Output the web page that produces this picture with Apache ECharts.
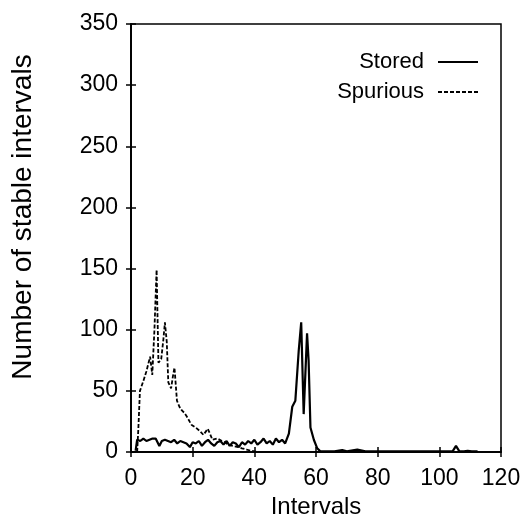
<!DOCTYPE html>
<html>
<head>
<meta charset="utf-8">
<script src="https://cdn.jsdelivr.net/npm/echarts@6/dist/echarts.min.js"></script>
<style>
html,body{margin:0;padding:0;background:#fff;}
#chart{width:530px;height:529px;}
</style>
</head>
<body>
<div id="chart"></div>
<script>
// ---- data ----
const seriesNames = ['Stored', 'Spurious'];
const xTicks = [0, 20, 40, 60, 80, 100, 120];
const yTicks = [0, 50, 100, 150, 200, 250, 300, 350];

const storedX = [1.5, 2, 3, 4, 5, 6, 7, 8, 9.2, 10, 11, 12, 13, 14, 15, 16, 17, 18, 19.1, 20, 21, 22, 23, 24, 25, 26, 27, 28, 29, 30, 31, 32, 33, 34, 35, 36, 37, 38, 39, 40, 41, 42, 43, 44, 45, 46, 47, 48, 49, 50, 51.2, 52.3, 53.3, 54.4, 55.2, 56, 57.1, 57.6, 58.2, 59.3, 60.4, 61.4, 64, 66, 68.5, 70, 73.4, 76, 80, 90, 100, 104.3, 105.4, 106.5, 108, 109.2, 110.5, 112.4];
const storedY = [1, 10, 9, 11, 9, 10, 11, 11, 5, 9, 10, 9, 8, 10, 7, 9, 8, 7, 4, 8, 7, 9, 5, 8, 10, 7, 5, 8, 9, 6, 9, 5, 8, 7, 4, 8, 6, 9, 7, 10, 6, 8, 11, 7, 9, 6, 11, 8, 10, 7, 15, 37, 42, 83, 106, 31, 97, 75, 20, 10, 3, 0.5, 0.5, 0.5, 1.6, 0.5, 2, 0.5, 0.5, 0.5, 0.5, 0.5, 5, 0.5, 0.5, 1, 0.5, 0.5];

const spuriousX = [2, 2.4, 2.9, 4, 5, 6.2, 6.9, 7.6, 8.3, 8.9, 9.8, 10.5, 11, 11.6, 12.1, 13, 13.6, 14.1, 14.9, 15.7, 16.5, 17.3, 18.1, 19, 19.7, 21, 22.4, 23.5, 24.9, 25.6, 26.4, 28, 29.5, 30.5, 31.5, 33, 34.8, 36, 37.5, 39, 41];
const spuriousY = [0, 20, 50, 58, 66, 78, 63, 100, 149, 73, 76, 92, 106, 90, 57, 52, 62, 69, 42, 37, 34, 32, 29, 25, 22, 20, 17, 14, 19, 15, 10, 11, 9, 8, 6, 5, 4, 3, 2, 1, 0];

const font = "'Liberation Sans', Arial, sans-serif";

const chart = echarts.init(document.getElementById('chart'), null, {renderer: 'canvas'});

function pairs(xs, ys) { return xs.map((x, i) => [x, ys[i]]); }

const axisLineStyle = {show: true, lineStyle: {color: '#000', width: 1.5}};
const tickStyle = {show: true, inside: true, length: 5, lineStyle: {color: '#000', width: 1.5}};

chart.setOption({
  animation: false,
  backgroundColor: '#fff',
  grid: {left: 131, right: 29, top: 24, bottom: 77, show: true, borderColor: '#000', borderWidth: 1.5},
  legend: {
    data: seriesNames,
    orient: 'vertical',
    align: 'right',
    right: 46,
    top: 46,
    itemWidth: 40,
    itemHeight: 20,
    itemGap: 8,
    itemStyle: {opacity: 0},
    textStyle: {fontFamily: font, fontSize: 22, color: '#000', padding: [0, 9, 0, 0]}
  },
  xAxis: [{
    type: 'value', min: xTicks[0], max: xTicks[xTicks.length - 1], interval: xTicks[1] - xTicks[0],
    position: 'bottom',
    name: 'Intervals', nameLocation: 'middle', nameGap: 41,
    nameTextStyle: {fontFamily: font, fontSize: 24, color: '#000'},
    axisLine: axisLineStyle, axisTick: tickStyle, splitLine: {show: false},
    axisLabel: {fontFamily: font, fontSize: 23, color: '#000', margin: 15}
  }, {
    type: 'value', min: xTicks[0], max: xTicks[xTicks.length - 1], interval: xTicks[1] - xTicks[0],
    position: 'top',
    axisLine: axisLineStyle, axisTick: tickStyle, splitLine: {show: false},
    axisLabel: {show: false}
  }],
  yAxis: [{
    type: 'value', min: yTicks[0], max: yTicks[yTicks.length - 1], interval: yTicks[1] - yTicks[0],
    position: 'left',
    name: 'Number of stable intervals', nameLocation: 'middle', nameGap: 94, nameRotate: 90,
    nameTextStyle: {fontFamily: font, fontSize: 28, color: '#000', padding: [0, 0, 0, 42]},
    axisLine: axisLineStyle, axisTick: tickStyle, splitLine: {show: false},
    axisLabel: {fontFamily: font, fontSize: 23, color: '#000', margin: 13}
  }, {
    type: 'value', min: yTicks[0], max: yTicks[yTicks.length - 1], interval: yTicks[1] - yTicks[0],
    position: 'right',
    axisLine: axisLineStyle, axisTick: tickStyle, splitLine: {show: false},
    axisLabel: {show: false}
  }],
  series: [{
    name: seriesNames[0], type: 'line', xAxisIndex: 0, yAxisIndex: 0,
    data: pairs(storedX, storedY), symbol: 'none', smooth: false,
    lineStyle: {color: '#000', width: 2.2, type: 'solid'}, itemStyle: {color: '#000'}
  }, {
    name: seriesNames[1], type: 'line', xAxisIndex: 0, yAxisIndex: 0,
    data: pairs(spuriousX, spuriousY), symbol: 'none', smooth: false,
    lineStyle: {color: '#000', width: 1.8, type: [4, 2]}, itemStyle: {color: '#000'}
  }]
});
</script>
</body>
</html>
